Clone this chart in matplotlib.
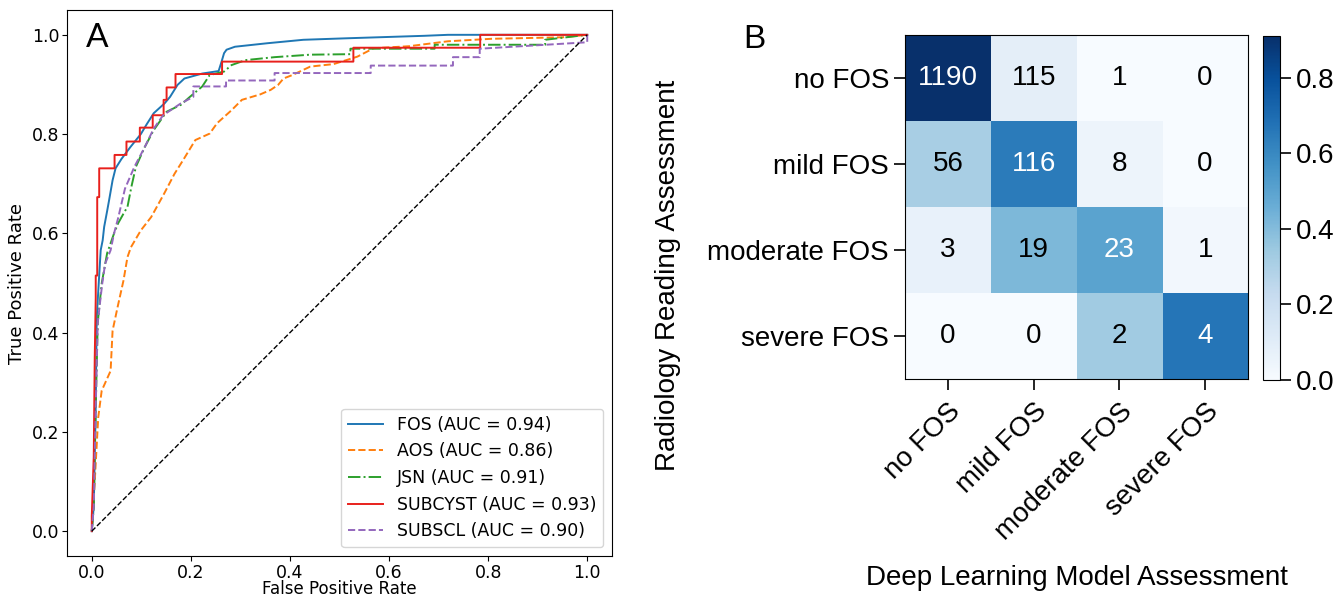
import numpy as np
import matplotlib
matplotlib.use("Agg")
import matplotlib.pyplot as plt


# ROC curves
fos_fpr = [0, 0.004, 0.008, 0.010, 0.014, 0.018, 0.022, 0.025, 0.031, 0.035, 0.042, 0.048, 0.060, 0.078,
           0.099, 0.111, 0.125, 0.147, 0.158, 0.173, 0.187, 0.223, 0.256, 0.262, 0.267, 0.272, 0.289,
           0.354, 0.427, 0.514, 0.671, 0.719, 1.0]
fos_tpr = [0, 0.05, 0.25, 0.43, 0.499, 0.566, 0.586, 0.613, 0.645, 0.667, 0.707, 0.731, 0.750, 0.774,
           0.800, 0.820, 0.842, 0.862, 0.875, 0.899, 0.912, 0.922, 0.927, 0.946, 0.963, 0.970, 0.976,
           0.983, 0.990, 0.993, 0.998, 1.0, 1.0]

aos_fpr = [0, 0.006, 0.013, 0.020, 0.038, 0.042, 0.052, 0.064, 0.072, 0.079, 0.099, 0.120, 0.146, 0.167,
           0.184, 0.209, 0.238, 0.253, 0.282, 0.303, 0.340, 0.361, 0.376, 0.387, 0.405, 0.441, 0.488,
           0.536, 0.569, 0.640, 0.719, 0.807, 0.950, 1.0]
aos_tpr = [0, 0.100, 0.229, 0.283, 0.323, 0.404, 0.451, 0.505, 0.552, 0.572, 0.606, 0.633, 0.680, 0.720,
           0.747, 0.788, 0.801, 0.822, 0.848, 0.869, 0.880, 0.889, 0.899, 0.912, 0.919, 0.936, 0.941,
           0.956, 0.973, 0.977, 0.987, 0.992, 0.995, 1.0]

jsn_fpr = [0, 0.004, 0.008, 0.012, 0.020, 0.031, 0.045, 0.053, 0.067, 0.072, 0.080, 0.089, 0.107, 0.125,
           0.151, 0.180, 0.198, 0.223, 0.238, 0.267, 0.282, 0.310, 0.369, 0.441, 0.522, 0.522, 0.692,
           0.692, 0.915, 0.915, 1.0]
jsn_tpr = [0, 0.05, 0.25, 0.42, 0.499, 0.560, 0.600, 0.620, 0.645, 0.653, 0.694, 0.734, 0.774, 0.808,
           0.845, 0.859, 0.875, 0.896, 0.919, 0.926, 0.939, 0.949, 0.955, 0.960, 0.961, 0.972, 0.972,
           0.980, 0.980, 0.990, 1.0]

subcyst_fpr = [0, 0.0, 0.004, 0.006, 0.008, 0.008, 0.011, 0.011, 0.015, 0.015, 0.046, 0.046, 0.070, 0.070,
               0.097, 0.097, 0.123, 0.123, 0.145, 0.145, 0.151, 0.151, 0.169, 0.169, 0.263, 0.263, 0.528,
               0.528, 0.784, 0.784, 1.0]
subcyst_tpr = [0, 0.03, 0.15, 0.35, 0.47, 0.515, 0.515, 0.673, 0.673, 0.731, 0.731, 0.758, 0.758, 0.785,
               0.785, 0.813, 0.813, 0.838, 0.838, 0.869, 0.869, 0.894, 0.894, 0.921, 0.921, 0.946, 0.946,
               0.974, 0.974, 1.0, 1.0]

subscl_fpr = [0, 0.004, 0.008, 0.012, 0.021, 0.027, 0.038, 0.045, 0.053, 0.067, 0.086, 0.107, 0.125, 0.144,
              0.180, 0.205, 0.205, 0.271, 0.271, 0.369, 0.369, 0.563, 0.563, 0.729, 0.729, 0.783, 0.783,
              1.0, 1.0]
subscl_tpr = [0, 0.05, 0.25, 0.42, 0.498, 0.539, 0.566, 0.600, 0.630, 0.690, 0.734, 0.774, 0.811, 0.838,
              0.862, 0.875, 0.896, 0.896, 0.908, 0.908, 0.923, 0.923, 0.938, 0.938, 0.955, 0.955, 0.972,
              0.985, 1.0]

roc_labels = ["FOS (AUC = 0.94)", "AOS (AUC = 0.86)", "JSN (AUC = 0.91)",
              "SUBCYST (AUC = 0.93)", "SUBSCL (AUC = 0.90)"]

# Confusion matrix (panel B)
classes = ["no FOS", "mild FOS", "moderate FOS", "severe FOS"]
cm = np.array([[1190, 115, 1, 0],
               [56, 116, 8, 0],
               [3, 19, 23, 1],
               [0, 0, 2, 4]])

W, H = 1337, 597
fig = plt.figure(figsize=(W / 100, H / 100), dpi=100)

# Panel A
ax1 = fig.add_axes([67 / W, 41 / H, 545 / W, 546 / H])
fs = 12.5
curves = [(fos_fpr, fos_tpr, "#1f77b4", "-"),
          (aos_fpr, aos_tpr, "#ff7f0e", "--"),
          (jsn_fpr, jsn_tpr, "#2ca02c", "-."),
          (subcyst_fpr, subcyst_tpr, "#e8201c", "-"),
          (subscl_fpr, subscl_tpr, "#9467bd", "--")]
for (x, y, c, ls), lab in zip(curves, roc_labels):
    ax1.plot(x, y, color=c, linestyle=ls, lw=1.4, label=lab)
ax1.plot([0, 1], [0, 1], "k--", lw=1)
ax1.set_xlim(-0.05, 1.05)
ax1.set_ylim(-0.05, 1.05)
ax1.set_xticks(np.arange(0, 1.01, 0.2))
ax1.set_yticks(np.arange(0, 1.01, 0.2))
ax1.tick_params(labelsize=fs, pad=2)
ax1.set_xlabel("False Positive Rate", fontsize=12, labelpad=-1)
ax1.set_ylabel("True Positive Rate", fontsize=13)
ax1.legend(loc="lower right", fontsize=fs)
ax1.text(0.012, 0.994, "A", fontsize=24, family="Lato", va="center", ha="center")

# Panel B
rf = ["Liberation Sans"]
norm = cm / cm.sum(axis=1, keepdims=True)
ax2 = fig.add_axes([905 / W, 218 / H, 343 / W, 344 / H])
im = ax2.imshow(norm, cmap="Blues", vmin=0, vmax=norm.max(), aspect="auto")
thresh = norm.max() / 2
for i in range(cm.shape[0]):
    for j in range(cm.shape[1]):
        ax2.text(j, i, str(cm[i, j]), ha="center", va="center", fontsize=20, family=rf,
                 color="white" if norm[i, j] > thresh else "black")
ax2.set_xticks(range(len(classes)))
ax2.set_yticks(range(len(classes)))
ax2.set_xticklabels(classes, rotation=45, ha="right", rotation_mode="anchor", fontsize=20, family=rf)
ax2.set_yticklabels(classes, fontsize=20, family=rf)
ax2.tick_params(length=8, width=1.2)
ax2.tick_params(axis="x", pad=6)
ax2.set_xlabel("Deep Learning Model Assessment", fontsize=20, family=rf)
ax2.xaxis.set_label_coords(0.5, -0.541)
ax2.set_ylabel("Radiology Reading Assessment", fontsize=20, family=rf)
ax2.yaxis.set_label_coords(-0.652, 0.30)

cax = fig.add_axes([1263 / W, 217 / H, 17 / W, 344 / H])
cb = fig.colorbar(im, cax=cax, ticks=[0, 0.2, 0.4, 0.6, 0.8])
cb.ax.tick_params(labelsize=20, length=8, width=1.2)
for t in cb.ax.get_yticklabels():
    t.set_family(rf)
fig.text(754 / W, 1 - 40 / H, "B", fontsize=24, family=["Liberation Sans Narrow", "Liberation Sans"],
         va="center", ha="center")

fig.savefig("out.png", dpi=100)
